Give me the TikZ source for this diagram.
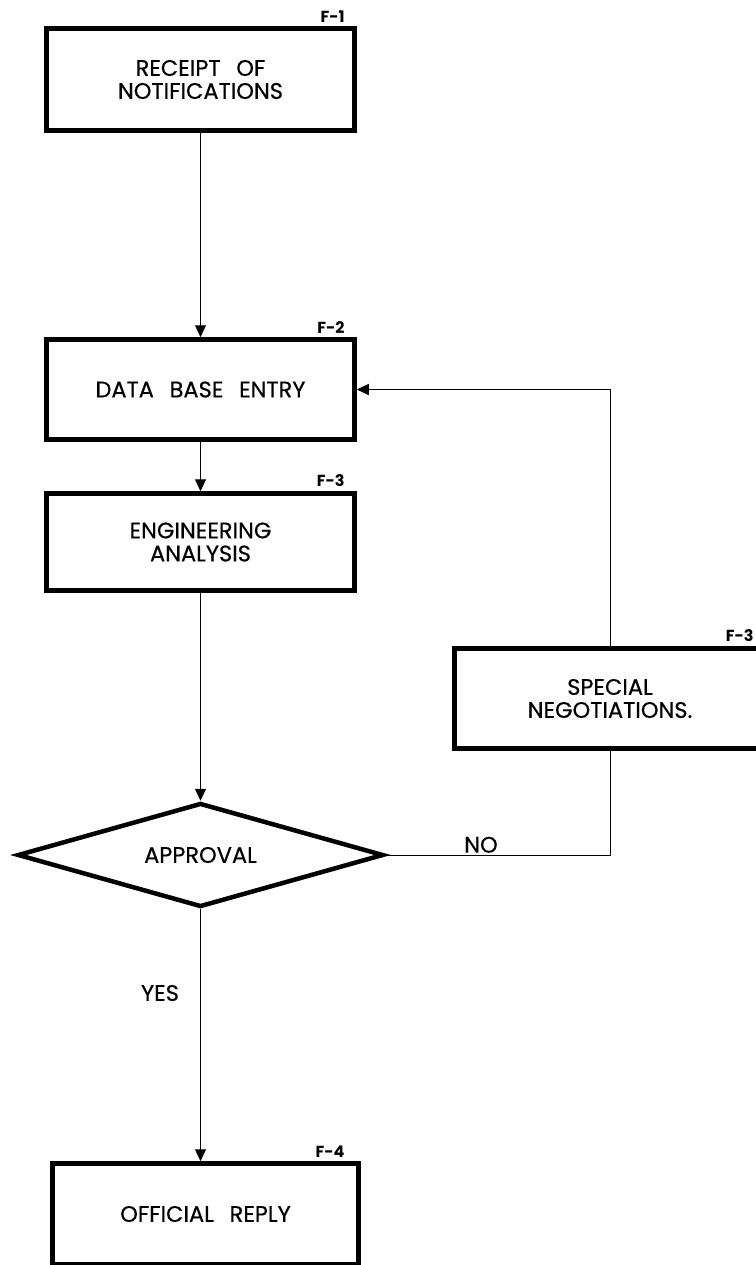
\documentclass[tikz,border=0pt]{standalone}
\usepackage{fontspec}
\setmainfont{Poppins}
\newfontfamily\boxfont{Poppins}[FakeBold=0.5]
\usetikzlibrary{arrows.meta,shapes.geometric,calc}

\newcommand{\wsp}{\hspace{0.7em}}

\begin{document}
\begin{tikzpicture}[x=1pt,y=-1pt]

\tikzset{line/.style={draw,line width=1pt}}
\tikzset{arrow/.style={line,-{Triangle[length=12pt,width=11pt]}}}
\tikzset{box/.style={draw,line width=4.5pt,rectangle,inner sep=0pt,align=center,font=\boxfont\fontsize{22.5}{23}\selectfont}}
\tikzset{tag/.style={anchor=south east,inner sep=0pt,font=\fontsize{16}{16}\selectfont\bfseries}}
\tikzset{txt/.style={inner sep=0pt,font=\boxfont\fontsize{22.5}{23}\selectfont}}

\useasboundingbox (0,0) rectangle (755,1265);

\node[box,minimum width=308pt,minimum height=102pt] (f1) at (200.5,79.5) {RECEIPT\wsp OF\\NOTIFICATIONS};
\node[box,minimum width=308pt,minimum height=100pt] (f2) at (200.5,389.5) {DATA\wsp BASE\wsp ENTRY};
\node[box,minimum width=308pt,minimum height=97pt] (f3) at (200.5,542) {ENGINEERING\\ANALYSIS};
\node[box,minimum width=311pt,minimum height=100pt] (spec) at (610,698.5) {SPECIAL\\NEGOTIATIONS.};
\node[box,diamond,aspect=3.4,minimum width=366pt,minimum height=104pt] (dec) at (200.5,855) {APPROVAL};
\node[box,minimum width=306pt,minimum height=101pt] (f4) at (205.5,1214) {OFFICIAL\wsp REPLY};

\node[tag] (t1) at ($(f1.north east)+(-12,-4)$) {F-1};
\node[tag] (t2) at ($(f2.north east)+(-12,-4)$) {F-2};
\node[tag] (t3) at ($(f3.north east)+(-12,-4)$) {F-3};
\node[tag] (t3b) at ($(spec.north east)+(-14,-4)$) {F-3};
\node[tag] (t4) at ($(f4.north east)+(-16,-4)$) {F-4};

\node[txt] (yes) at (160,993) {YES};
\node[txt,anchor=south] (no) at (481,853) {NO};

\path[arrow] (f1) to (f2);
\path[arrow] (f2) to (f3);
\path[arrow] (f3) to (dec);
\path[arrow] (dec.south) to (dec.south |- f4.north);
\path[line] (dec.east) -| (spec.south);
\path[arrow] (spec.north) |- (f2.east);

\end{tikzpicture}
\end{document}
